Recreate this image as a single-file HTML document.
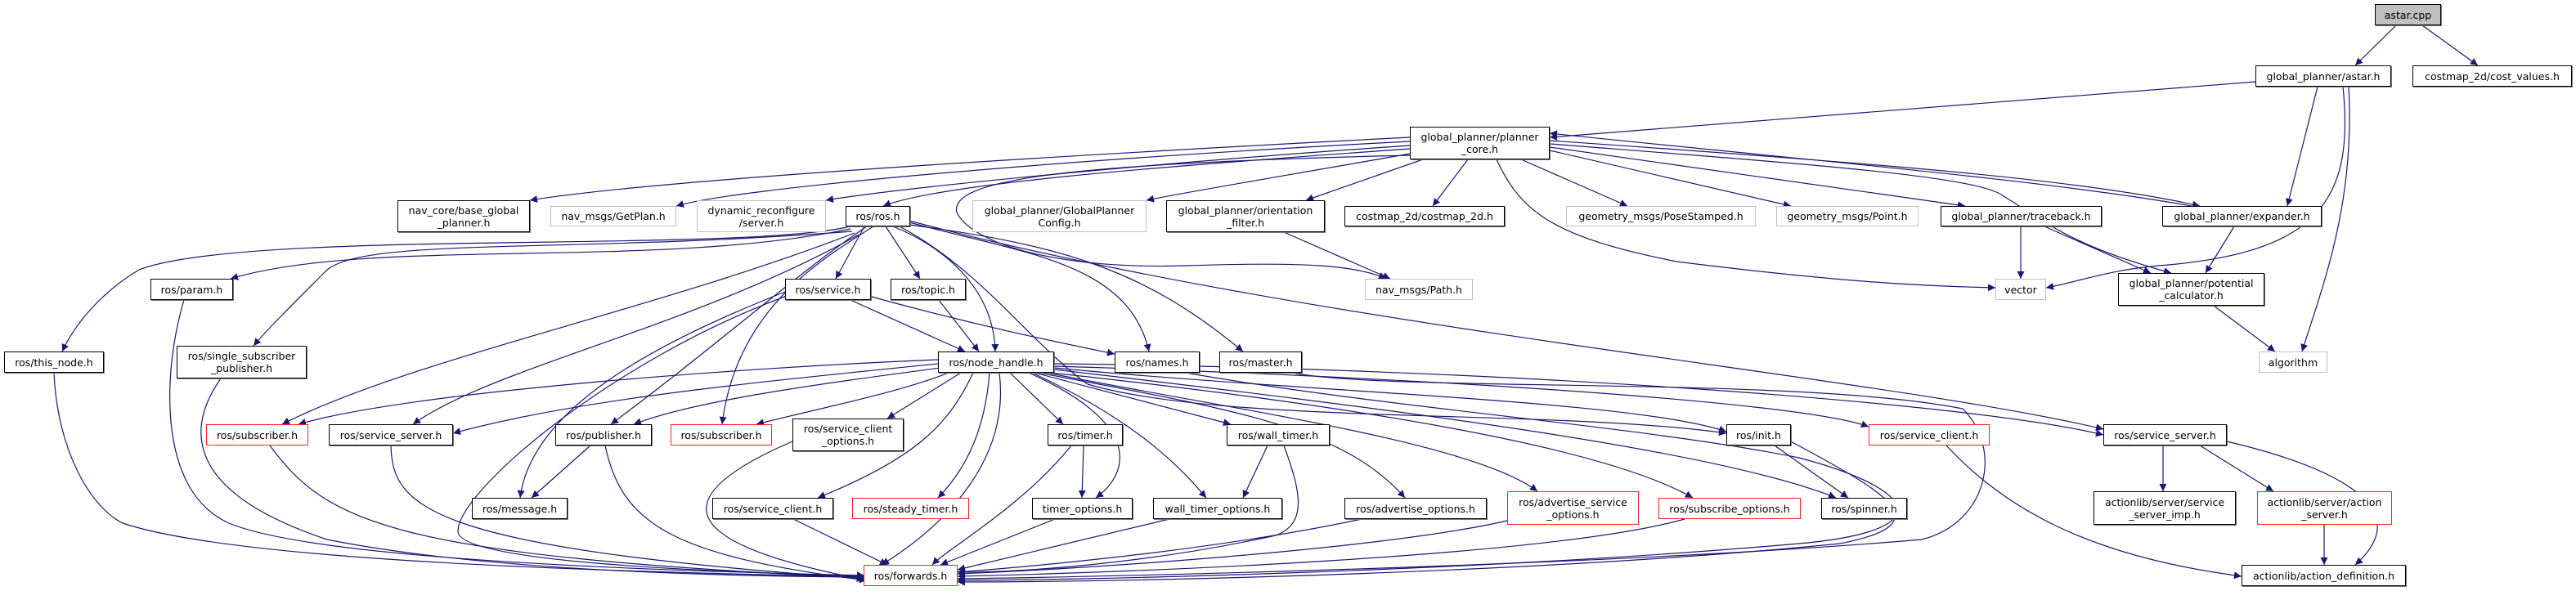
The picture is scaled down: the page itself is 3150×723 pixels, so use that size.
<!DOCTYPE html>
<html><head><meta charset="utf-8"><style>
html,body{margin:0;padding:0;background:#fff;}
#c{position:relative;width:3150px;height:723px;overflow:hidden;background:#fff;}
.n{position:absolute;box-sizing:border-box;border:1.5px solid #000;background:#fff;font-family:"DejaVu Sans","Liberation Sans",sans-serif;font-size:12.5px;color:#000;text-align:center;line-height:15px;display:flex;align-items:center;justify-content:center;white-space:nowrap;box-shadow:1px 1px 0 #777;}
.g{border-color:#bfbfbf;box-shadow:none;}
.r{border-color:#ff2020;box-shadow:none;}
svg{position:absolute;left:0;top:0;}
</style></head><body><div id="c">
<svg width="3150" height="723" viewBox="0 0 3150 723">
<defs><marker id="a" viewBox="0 0 10 10" refX="10" refY="5" markerWidth="11" markerHeight="9" markerUnits="userSpaceOnUse" orient="auto"><path d="M0,0 L10,5 L0,10z" fill="#191970"/></marker></defs>
<g fill="none" stroke="#191970" stroke-width="1.2" marker-end="url(#a)">
<!-- top -->
<path d="M2930,31 L2880,80"/>
<path d="M2962,31 L3030,80"/>
<path d="M2758,100 L1895,168"/>
<path d="M2834,106 L2797,252"/>
<path d="M2865,106 C2880,250 2830,310 2640,325 C2580,330 2540,345 2502,352"/>
<path d="M2872,106 C2880,250 2840,350 2815,430"/>
<!-- planner_core out -->
<path d="M1724,168 C1300,190 800,220 648,245"/>
<path d="M1724,173 C1300,195 900,230 827,252"/>
<path d="M1724,178 C1400,200 1100,230 1010,245"/>
<path d="M1724,182 C1400,205 1150,225 1080,252"/>
<path d="M1724,188 C1600,210 1450,235 1402,245"/>
<path d="M1740,195 L1597,245"/>
<path d="M1795,195 L1752,252"/>
<path d="M1860,195 L1990,252"/>
<path d="M1895,184 L2190,252"/>
<path d="M1895,180 L2403,252"/>
<path d="M1895,172 C2300,200 2550,220 2690,252"/>
<path d="M2680,252 C2500,220 2200,195 1895,163"/>
<path d="M1895,176 C2200,200 2420,215 2450,240 C2500,270 2530,300 2655,334"/>
<path d="M1830,195 C1860,260 1900,290 2050,320 C2250,345 2350,350 2440,352"/>
<path d="M1724,190 C1300,200 1160,220 1170,260 C1190,300 1300,330 1450,325 C1600,320 1660,325 1695,341"/>
<path d="M1570,284 L1700,341"/>
<path d="M2471,277 L2471,341"/>
<path d="M2500,277 L2630,334"/>
<path d="M2732,277 L2697,334"/>
<path d="M2707,374 L2782,430"/>
<!-- ros.h out -->
<path d="M1040,277 C900,310 300,280 170,330 C120,360 90,400 76,430"/>
<path d="M1040,280 C800,330 450,290 282,341"/>
<path d="M1042,283 C700,310 450,290 400,330 C360,370 325,405 310,423"/>
<path d="M1045,285 C800,380 500,440 345,519"/>
<path d="M1050,287 C850,400 600,450 505,519"/>
<path d="M1060,277 C980,330 880,420 747,519"/>
<path d="M1068,277 C1000,320 900,380 883,519"/>
<path d="M1057,277 L1022,341"/>
<path d="M1083,277 L1125,341"/>
<path d="M1092,277 C1150,300 1215,350 1217,430"/>
<path d="M1112,272 C1250,310 1380,320 1405,430"/>
<path d="M1112,275 C1300,300 1400,330 1520,430"/>
<path d="M1112,270 C1600,400 2300,460 2572,525"/>
<path d="M1100,277 C1200,330 1260,420 1330,470 C1500,520 1900,500 2111,530"/>
<!-- service.h / topic.h -->
<path d="M1040,367 L1180,430"/>
<path d="M1062,362 C1200,400 1300,420 1363,433"/>
<path d="M960,357 C800,420 650,500 636,609"/>
<path d="M962,362 C750,440 560,600 560,650 C560,690 900,700 1057,705"/>
<path d="M1148,367 L1197,430"/>
<!-- left to forwards -->
<path d="M225,367 C200,450 190,600 280,640 C400,690 900,700 1057,704"/>
<path d="M66,456 C70,550 110,620 150,640 C300,690 800,700 1057,706"/>
<path d="M270,463 C230,520 220,600 400,660 C600,700 900,705 1057,706"/>
<path d="M330,545 C400,640 480,680 1057,707"/>
<path d="M478,545 C480,620 520,670 1057,708"/>
<path d="M722,545 L650,609"/>
<path d="M740,545 C760,640 820,680 1060,710"/>
<path d="M970,635 L1085,691"/>
<path d="M969,540 C830,600 800,660 1057,709"/>
<!-- node_handle out -->
<path d="M1147,440 C900,450 500,480 365,519"/>
<path d="M1147,445 C900,470 700,490 554,530"/>
<path d="M1150,450 C1000,470 850,490 775,519"/>
<path d="M1160,456 C1100,480 1000,500 925,519"/>
<path d="M1175,456 L1085,512"/>
<path d="M1190,456 C1160,520 1120,560 1000,609"/>
<path d="M1210,456 C1205,520 1185,570 1147,609"/>
<path d="M1222,456 C1235,560 1160,640 1078,691"/>
<path d="M1235,456 L1300,519"/>
<path d="M1258,456 C1400,520 1380,580 1340,609"/>
<path d="M1265,456 L1505,519"/>
<path d="M1262,456 C1400,520 1450,580 1475,609"/>
<path d="M1270,456 C1500,500 1640,520 1718,609"/>
<path d="M1280,456 C1500,500 1800,540 1880,601"/>
<path d="M1285,456 C1600,490 1950,540 2070,609"/>
<path d="M1289,450 C1600,480 2000,490 2111,528"/>
<path d="M1289,448 C1700,460 2200,490 2285,522"/>
<path d="M1289,445 C1800,450 2400,490 2572,532"/>
<path d="M1289,452 C1700,500 2100,550 2245,609"/>
<path d="M1450,456 C1700,500 2000,520 2200,560 C2350,600 2370,650 2200,665 C1800,700 1300,710 1171,710"/>
<path d="M1580,456 C1700,480 2200,460 2400,500 C2450,550 2430,640 2350,660 C2000,690 1400,705 1171,708"/>
<!-- lower -->
<path d="M1325,545 L1323,609"/>
<path d="M1310,545 C1250,620 1160,670 1140,691"/>
<path d="M1550,545 L1520,609"/>
<path d="M1570,545 C1590,600 1600,640 1560,655 C1400,690 1250,700 1171,700"/>
<path d="M1290,635 L1150,691"/>
<path d="M1430,635 L1171,697"/>
<path d="M1665,635 C1500,670 1300,690 1171,700"/>
<path d="M1843,637 C1700,670 1350,695 1171,702"/>
<path d="M2060,635 C1900,680 1400,700 1171,705"/>
<path d="M2170,545 L2260,609"/>
<path d="M2190,540 C2300,600 2380,640 2250,665 C1900,700 1400,712 1171,712"/>
<path d="M2380,545 C2450,620 2550,680 2741,705"/>
<path d="M2645,545 L2645,601"/>
<path d="M2690,545 L2780,601"/>
<path d="M2723,540 C2850,570 2960,620 2880,691"/>
<path d="M2842,642 L2842,691"/>
</g>
</svg>
<div class="n" style="left:2904px;top:5px;width:81px;height:26px;background:#bfbfbf;">astar.cpp</div>
<div class="n" style="left:2758px;top:80px;width:166px;height:26px;">global_planner/astar.h</div>
<div class="n" style="left:2950px;top:80px;width:195px;height:26px;">costmap_2d/cost_values.h</div>
<div class="n" style="left:1724px;top:155px;width:171px;height:40px;">global_planner/planner<br>_core.h</div>
<div class="n" style="left:486px;top:245px;width:162px;height:39px;">nav_core/base_global<br>_planner.h</div>
<div class="n g" style="left:673px;top:252px;width:154px;height:25px;">nav_msgs/GetPlan.h</div>
<div class="n g" style="left:852px;top:245px;width:158px;height:39px;">dynamic_reconfigure<br>/server.h</div>
<div class="n" style="left:1034px;top:252px;width:79px;height:25px;">ros/ros.h</div>
<div class="n g" style="left:1189px;top:245px;width:213px;height:39px;">global_planner/GlobalPlanner<br>Config.h</div>
<div class="n" style="left:1426px;top:245px;width:194px;height:39px;">global_planner/orientation<br>_filter.h</div>
<div class="n" style="left:1644px;top:252px;width:196px;height:25px;">costmap_2d/costmap_2d.h</div>
<div class="n g" style="left:1915px;top:252px;width:232px;height:25px;">geometry_msgs/PoseStamped.h</div>
<div class="n g" style="left:2172px;top:252px;width:174px;height:25px;">geometry_msgs/Point.h</div>
<div class="n" style="left:2373px;top:252px;width:197px;height:25px;">global_planner/traceback.h</div>
<div class="n" style="left:2644px;top:252px;width:195px;height:25px;">global_planner/expander.h</div>
<div class="n" style="left:184px;top:341px;width:101px;height:26px;">ros/param.h</div>
<div class="n" style="left:960px;top:341px;width:105px;height:26px;">ros/service.h</div>
<div class="n" style="left:1089px;top:341px;width:92px;height:26px;">ros/topic.h</div>
<div class="n g" style="left:1669px;top:341px;width:132px;height:26px;">nav_msgs/Path.h</div>
<div class="n g" style="left:2440px;top:341px;width:62px;height:26px;">vector</div>
<div class="n" style="left:2590px;top:334px;width:179px;height:40px;">global_planner/potential<br>_calculator.h</div>
<div class="n" style="left:5px;top:430px;width:122px;height:26px;">ros/this_node.h</div>
<div class="n" style="left:216px;top:423px;width:159px;height:40px;">ros/single_subscriber<br>_publisher.h</div>
<div class="n" style="left:1147px;top:430px;width:142px;height:26px;">ros/node_handle.h</div>
<div class="n" style="left:1363px;top:430px;width:104px;height:26px;">ros/names.h</div>
<div class="n" style="left:1491px;top:430px;width:101px;height:26px;">ros/master.h</div>
<div class="n g" style="left:2762px;top:430px;width:84px;height:26px;">algorithm</div>
<div class="n r" style="left:252px;top:519px;width:125px;height:26px;">ros/subscriber.h</div>
<div class="n" style="left:402px;top:519px;width:152px;height:26px;">ros/service_server.h</div>
<div class="n" style="left:679px;top:519px;width:118px;height:26px;">ros/publisher.h</div>
<div class="n r" style="left:820px;top:519px;width:124px;height:26px;">ros/subscriber.h</div>
<div class="n" style="left:969px;top:512px;width:136px;height:40px;">ros/service_client<br>_options.h</div>
<div class="n" style="left:1281px;top:519px;width:92px;height:26px;">ros/timer.h</div>
<div class="n" style="left:1500px;top:519px;width:126px;height:26px;">ros/wall_timer.h</div>
<div class="n" style="left:2111px;top:519px;width:79px;height:26px;">ros/init.h</div>
<div class="n r" style="left:2285px;top:519px;width:148px;height:26px;">ros/service_client.h</div>
<div class="n" style="left:2572px;top:519px;width:151px;height:26px;">ros/service_server.h</div>
<div class="n" style="left:577px;top:609px;width:117px;height:26px;">ros/message.h</div>
<div class="n" style="left:871px;top:609px;width:148px;height:26px;">ros/service_client.h</div>
<div class="n r" style="left:1042px;top:609px;width:143px;height:26px;">ros/steady_timer.h</div>
<div class="n" style="left:1262px;top:609px;width:123px;height:26px;">timer_options.h</div>
<div class="n" style="left:1410px;top:609px;width:158px;height:26px;">wall_timer_options.h</div>
<div class="n" style="left:1644px;top:609px;width:174px;height:26px;">ros/advertise_options.h</div>
<div class="n r" style="left:1843px;top:601px;width:161px;height:41px;">ros/advertise_service<br>_options.h</div>
<div class="n r" style="left:2028px;top:609px;width:174px;height:26px;">ros/subscribe_options.h</div>
<div class="n" style="left:2227px;top:609px;width:105px;height:26px;">ros/spinner.h</div>
<div class="n" style="left:2560px;top:601px;width:174px;height:41px;">actionlib/server/service<br>_server_imp.h</div>
<div class="n r" style="left:2760px;top:601px;width:165px;height:41px;">actionlib/server/action<br>_server.h</div>
<div class="n r" style="left:1056px;top:691px;width:115px;height:26px;">ros/forwards.h</div>
<div class="n" style="left:2741px;top:691px;width:201px;height:26px;">actionlib/action_definition.h</div>
</div></body></html>
